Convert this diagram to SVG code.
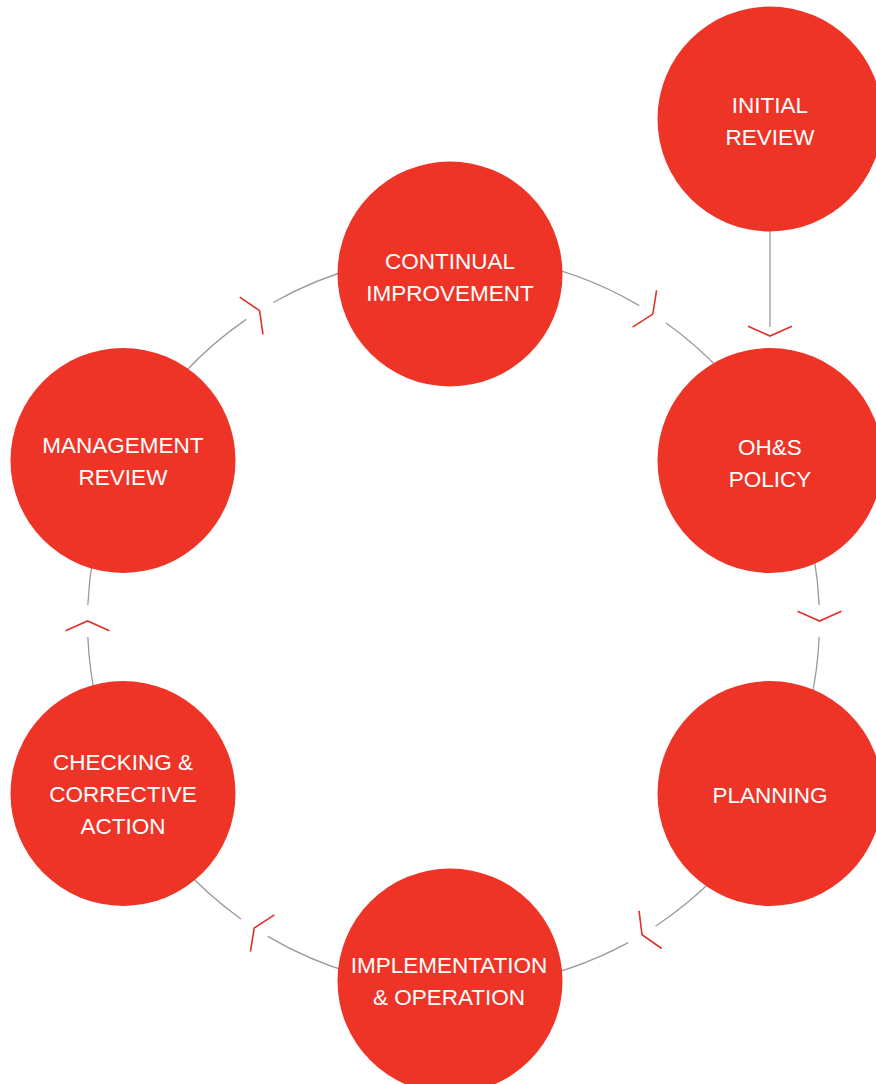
<svg xmlns="http://www.w3.org/2000/svg" width="876" height="1084" viewBox="0 0 876 1084">
<style>
.ring{fill:none;stroke:#9a9a9a;stroke-width:1.3}
.chev{fill:none;stroke:#e0302a;stroke-width:1.6;stroke-linejoin:miter}
.node{fill:#ee3427}
.lbl{font-family:"Liberation Sans",Arial,sans-serif;font-size:22.5px;fill:#ffffff;text-anchor:middle}
</style>
<defs>
<path id="chv" class="chev" d="M-9.76,-21.93 L0,0 L-9.76,21.93"/>
</defs>
<rect width="876" height="1084" fill="#ffffff"/>
<g id="connectors">
<path class="ring" d="M819.15,636.97 A366,366 0 0 1 655.51,926.20"/>
<path class="ring" d="M628.14,942.65 A366,366 0 0 1 267.74,936.36"/>
<path class="ring" d="M240.96,918.97 A366,366 0 0 1 87.85,636.97"/>
<path class="ring" d="M87.85,605.03 A366,366 0 0 1 246.19,319.37"/>
<path class="ring" d="M273.27,302.45 A366,366 0 0 1 639.26,305.64"/>
<path class="ring" d="M666.04,323.03 A366,366 0 0 1 819.15,605.03"/>
<line class="ring" x1="770" y1="231" x2="770" y2="327"/>
<use href="#chv" transform="translate(770,336) rotate(90)"/>
<use href="#chv" transform="translate(652.8,314.1) rotate(33)"/>
<use href="#chv" transform="translate(819.5,621) rotate(90)"/>
<use href="#chv" transform="translate(642,934.7) rotate(149)"/>
<use href="#chv" transform="translate(254.2,928) rotate(213)"/>
<use href="#chv" transform="translate(87.5,621) rotate(270)"/>
<use href="#chv" transform="translate(259.6,310.6) rotate(328)"/>
</g>
<g id="initial-review">
<circle class="node" cx="770" cy="119" r="112.5"/>
<text class="lbl" x="770" y="113">INITIAL</text>
<text class="lbl" x="770" y="145">REVIEW</text>
</g>
<g id="continual-improvement">
<circle class="node" cx="450" cy="274" r="112.5"/>
<text class="lbl" x="450" y="269">CONTINUAL</text>
<text class="lbl" x="450" y="301">IMPROVEMENT</text>
</g>
<g id="ohs-policy">
<circle class="node" cx="770" cy="460.5" r="112.5"/>
<text class="lbl" x="770" y="455">OH&amp;S</text>
<text class="lbl" x="770" y="487">POLICY</text>
</g>
<g id="management-review">
<circle class="node" cx="123" cy="460.5" r="112.5"/>
<text class="lbl" x="123" y="453">MANAGEMENT</text>
<text class="lbl" x="123" y="485">REVIEW</text>
</g>
<g id="planning">
<circle class="node" cx="770" cy="793.5" r="112.5"/>
<text class="lbl" x="770" y="803">PLANNING</text>
</g>
<g id="checking-corrective-action">
<circle class="node" cx="123" cy="793.5" r="112.5"/>
<text class="lbl" x="123" y="770">CHECKING &amp;</text>
<text class="lbl" x="123" y="802">CORRECTIVE</text>
<text class="lbl" x="123" y="834">ACTION</text>
</g>
<g id="implementation-operation">
<circle class="node" cx="450" cy="981" r="112.5"/>
<text class="lbl" x="449" y="973">IMPLEMENTATION</text>
<text class="lbl" x="449" y="1005">&amp; OPERATION</text>
</g>
</svg>
